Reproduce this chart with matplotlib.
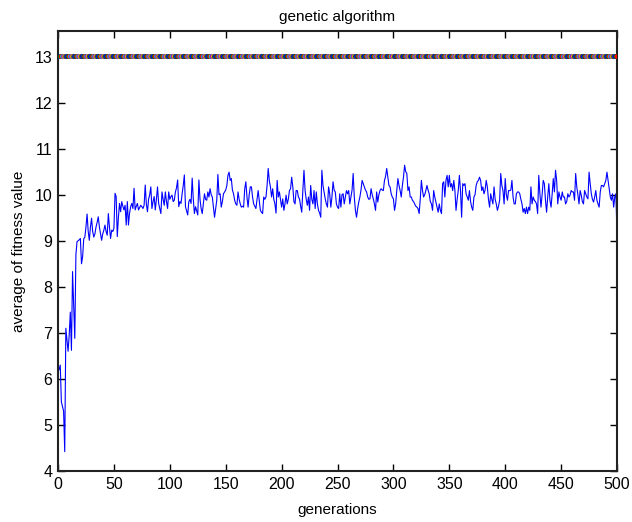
import matplotlib
matplotlib.use("Agg")
import matplotlib.pyplot as plt
import numpy as np

# average fitness per generation (gens 1..500)
avg_fitness = [
    # 1-26
    6.2, 6.3, 5.5, 5.4, 5.3, 4.42, 7.1, 6.85, 6.6, 6.95, 7.45, 6.62, 8.33, 7.6, 6.88, 8.7, 8.98, 9.0, 9.02, 9.05,
    8.5, 8.65, 9.04, 9.08, 9.3, 9.58,
    # 27-128
    9.2, 9.01, 9.3, 9.49, 9.2, 9.08, 9.15, 9.3, 9.4, 9.52, 9.3, 9.15, 9.01, 9.15, 9.23, 9.34, 9.2, 9.12, 9.59, 9.3,
    9.05, 9.23, 9.2, 9.27, 10.03, 9.96, 9.09, 9.5, 9.81, 9.63, 9.85, 9.75, 9.67, 9.77, 9.34, 9.85, 9.34, 9.6, 9.74, 9.81,
    9.7, 10.14, 9.67, 9.75, 9.81, 9.67, 9.72, 9.77, 9.74, 9.7, 9.77, 10.21, 9.8, 9.63, 9.9, 10.0, 10.17, 9.7, 9.85, 9.96,
    9.67, 9.9, 10.17, 9.81, 9.7, 9.59, 10.06, 9.9, 9.77, 10.06, 9.85, 9.7, 10.06, 9.9, 9.96, 9.99, 9.85, 9.88, 10.06, 10.15,
    10.32, 9.74, 9.85, 9.81, 10.02, 10.2, 10.43, 9.74, 9.65, 9.56, 9.85, 9.9, 9.81, 10.36, 9.9, 9.59, 9.74, 9.65, 9.56, 10.32,
    9.9, 9.7,
    # 129-167
    9.59, 9.8, 10.02, 9.9, 9.88, 10.06, 9.95, 10.13, 10.0, 9.95, 9.73, 9.51, 9.7, 9.88, 10.44, 10.0, 10.02, 9.73, 9.85, 10.02,
    10.06, 10.1, 10.2, 10.42, 10.49, 10.31, 10.35, 10.1, 10.02, 9.88, 9.8, 9.77, 10.06, 9.9, 9.8, 9.73, 9.75, 9.73, 10.13,
    # 168-251
    10.28, 9.95, 9.73, 10.0, 10.17, 10.17, 9.95, 9.8, 9.75, 9.7, 9.9, 10.09, 9.88, 9.66, 9.62, 9.59, 9.95, 9.9, 9.95, 10.2,
    10.57, 10.3, 10.17, 9.95, 10.13, 9.9, 9.8, 9.6, 10.31, 9.95, 10.06, 9.9, 9.73, 9.91, 9.66, 9.8, 9.99, 9.8, 9.9, 10.09,
    10.13, 10.38, 10.17, 9.85, 9.8, 10.09, 10.09, 9.95, 9.91, 9.75, 9.62, 10.1, 10.53, 10.09, 9.9, 9.77, 9.95, 9.66, 10.2, 9.9,
    9.8, 10.09, 9.7, 10.06, 9.8, 9.66, 9.6, 9.51, 10.53, 10.2, 10.06, 9.91, 9.8, 9.73, 10.17, 10.02, 9.73, 9.95, 10.28, 10.1,
    10.06, 9.8, 9.73, 9.7,
    # 252-334
    10.02, 9.73, 10.0, 10.02, 9.8, 9.95, 10.09, 10.02, 10.09, 9.8, 9.95, 10.1, 10.46, 9.95, 9.66, 9.51, 9.7, 9.84, 9.95, 10.1,
    10.31, 10.24, 10.17, 10.1, 10.06, 9.95, 9.9, 9.91, 10.13, 10.0, 9.91, 9.8, 9.66, 10.06, 9.84, 10.0, 10.09, 10.13, 10.1, 10.09,
    10.31, 10.4, 10.57, 10.38, 10.2, 10.17, 10.02, 9.95, 9.91, 9.66, 9.8, 10.09, 10.35, 10.2, 10.09, 9.95, 10.2, 10.38, 10.64, 10.5,
    10.46, 10.09, 10.17, 9.95, 9.95, 9.88, 9.85, 9.8, 9.75, 9.73, 9.7, 9.59, 9.9, 10.31, 10.09, 9.95, 10.0, 10.09, 10.2, 10.1,
    10.02, 9.85, 9.8,
    # 335-417
    9.66, 10.09, 9.95, 9.84, 9.73, 9.62, 9.8, 9.66, 9.59, 10.24, 10.28, 9.95, 10.31, 10.42, 10.17, 10.42, 10.17, 10.24, 10.09, 10.31,
    10.09, 9.66, 9.9, 10.09, 10.42, 10.09, 9.51, 10.24, 10.2, 10.24, 10.02, 9.95, 9.88, 10.09, 9.85, 9.73, 9.66, 9.95, 10.0, 10.2,
    10.28, 10.31, 10.38, 10.31, 10.09, 10.17, 10.02, 10.1, 10.31, 10.17, 9.9, 9.73, 10.02, 9.9, 9.8, 10.17, 9.9, 9.8, 9.66, 9.75,
    9.88, 10.46, 10.2, 10.09, 9.8, 10.35, 10.0, 9.88, 10.09, 10.09, 10.1, 10.31, 9.95, 9.8, 9.8, 10.02, 10.06, 10.06, 10.02, 9.9,
    9.8, 9.62, 9.7,
    # 418-500
    9.59, 9.73, 9.59, 9.73, 9.66, 10.17, 9.8, 9.95, 9.88, 9.85, 9.8, 9.59, 10.42, 10.02, 9.73, 10.0, 10.31, 10.24, 9.88, 9.62,
    9.95, 10.24, 9.88, 9.73, 10.02, 10.35, 10.06, 10.53, 10.31, 9.8, 10.06, 9.95, 9.88, 10.06, 9.95, 9.95, 9.8, 9.85, 10.02, 9.95,
    9.99, 10.09, 10.06, 10.06, 9.88, 10.46, 10.17, 10.0, 9.8, 10.09, 9.99, 9.85, 9.8, 10.09, 10.02, 9.95, 9.91, 10.49, 10.24, 10.02,
    9.9, 9.84, 9.95, 10.09, 9.88, 9.8, 9.73, 10.06, 10.2, 10.2, 10.17, 10.24, 10.31, 10.49, 10.31, 10.13, 9.95, 9.88, 10.02, 9.73,
    9.95, 10.02, 9.12,
]
generations = np.arange(1, len(avg_fitness) + 1)
best_fitness = [13] * len(avg_fitness)

# old matlab color order, one color per generation marker
matlab_colors = [(0, 0, 1), (0, 0.5, 0), (1, 0, 0), (0, 0.75, 0.75),
                 (0.75, 0, 0.75), (0.75, 0.75, 0), (0.25, 0.25, 0.25)]
marker_colors = [matlab_colors[i % len(matlab_colors)] for i in range(len(best_fitness))]

plt.rcParams["font.family"] = ["Liberation Sans", "DejaVu Sans"]

fig = plt.figure(figsize=(6.32, 5.22), dpi=100)
ax = fig.add_axes([0.0918, 0.0977, 0.8845, 0.8425])

ax.scatter(generations, best_fitness, c=marker_colors, s=13, linewidths=0, zorder=3)
ax.plot(generations, avg_fitness, color="blue", linewidth=0.8)

ax.set_xlim(0, 500)
ax.set_ylim(4, 13.55)
ax.set_xticks(np.arange(0, 501, 50))
ax.set_yticks(np.arange(4, 14, 1))
ax.tick_params(direction="in", length=5, width=1, top=True, right=True, labelsize=11.5, pad=4)
for s in ax.spines.values():
    s.set_linewidth(1.5)
    s.set_color("#222222")

ax.set_title("genetic algorithm", fontsize=11, pad=7)
ax.set_xlabel("generations", fontsize=11, labelpad=8)
ax.set_ylabel("average of fitness value", fontsize=11, labelpad=6)

fig.savefig("out.png", dpi=100)
